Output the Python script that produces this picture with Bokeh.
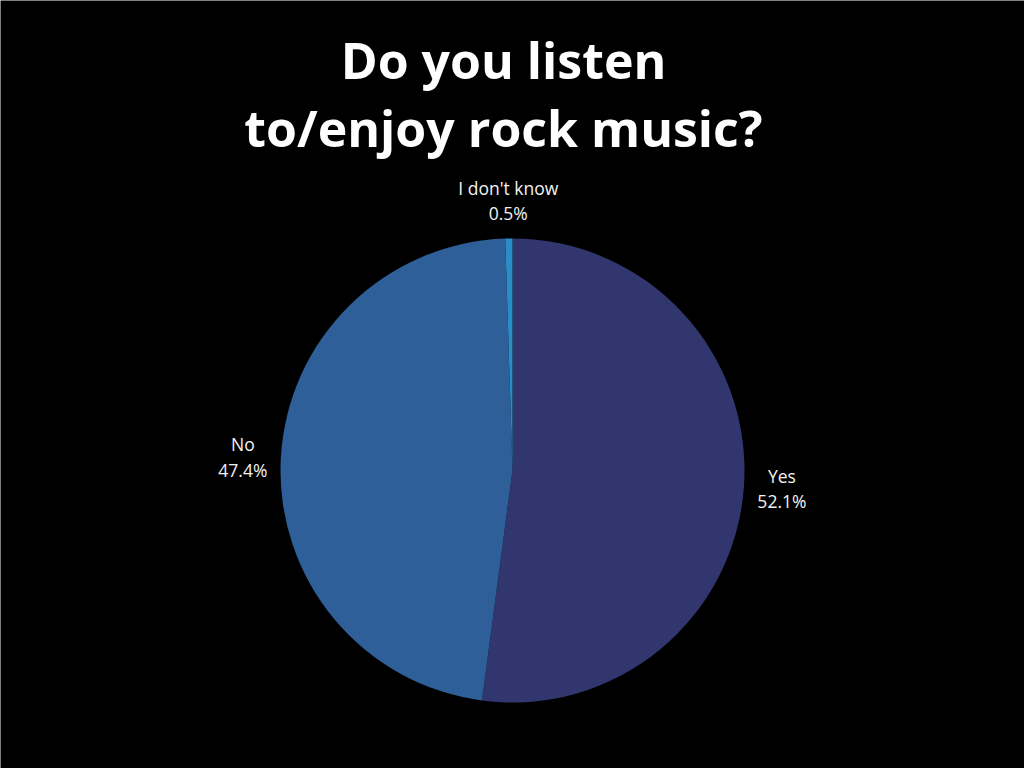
import math
from bokeh.plotting import figure
from bokeh.models import Range1d, ColumnDataSource
from bokeh.core.properties import value
from bokeh.embed import file_html
from bokeh.resources import INLINE

title_text = "Do you listen\nto/enjoy rock music?"
categories = ["Yes", "No", "I don't know"]
percents = [52.1, 47.4, 0.5]
colors = ["#32366e", "#2e5f99", "#2a8dc6"]

W, H = 1024, 768
cx, cy = 512, H - 470
R = 232
label_r = 270

total = sum(percents)
starts, ends, lx, ly, labels = [], [], [], [], []
acc = 0.0
for cat, pct in zip(categories, percents):
    a0 = math.pi / 2 - 2 * math.pi * acc / total
    acc += pct
    a1 = math.pi / 2 - 2 * math.pi * acc / total
    starts.append(a0)
    ends.append(a1)
    mid = (a0 + a1) / 2
    lx.append(cx + label_r * math.cos(mid))
    ly.append(cy + label_r * math.sin(mid))
    labels.append(f"{cat}\n{pct}%")

src = ColumnDataSource(dict(start=starts, end=ends, color=colors,
                            lx=lx, ly=ly, label=labels))

p = figure(width=W, height=H, output_backend="svg", toolbar_location=None,
           x_range=Range1d(0, W), y_range=Range1d(0, H), min_border=0)
p.axis.visible = False
p.grid.visible = False
p.outline_line_color = None
p.background_fill_color = "black"
p.border_fill_color = "black"

p.wedge(x=cx, y=cy, radius=R, start_angle="start", end_angle="end",
        direction="clock", fill_color="color", line_color=None, source=src)

p.text(x="lx", y="ly", text="label", source=src, text_color="#f2f2f2",
       text_font=value("Open Sans"), text_font_size="17.5px",
       text_align="center", text_baseline="middle", text_line_height=1.05)

p.text(x=[503], y=[H - 93], text=[title_text], text_color="white",
       text_font=value("Open Sans"), text_font_style="bold",
       text_font_size="50px", text_align="center", text_baseline="middle",
       text_line_height=1.0)

open("out.html", "w").write(file_html(p, INLINE))
